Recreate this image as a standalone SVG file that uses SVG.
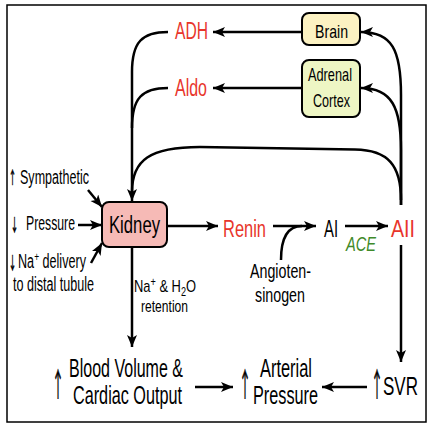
<svg xmlns="http://www.w3.org/2000/svg" width="437" height="430" viewBox="0 0 437 430">
<defs>
<marker id="ah" markerUnits="userSpaceOnUse" markerWidth="14" markerHeight="12" refX="12" refY="5" orient="auto">
<path d="M0,0 L12,5 L0,10 L3,5 z" fill="#000"/>
</marker>
<style>
text{font-family:"Liberation Sans",Arial,sans-serif;fill:#000}
.red{fill:#e8352b}
.green{fill:#3f8a2a;font-style:italic}
.big{font-size:23px}
.bot{font-size:25px}
.med{font-size:18.5px}
.sm{font-size:19.5px}
.xs{font-size:17px}
.arr{font-family:"Noto Sans CJK JP","Noto Sans CJK SC",sans-serif;fill:#000;stroke:#000;stroke-width:0.7}
.box{stroke:#000;stroke-width:2}
.c{fill:none;stroke:#000;stroke-width:2.5}
.cm{fill:none;stroke:#000;stroke-width:2.5;marker-end:url(#ah)}
</style>
</defs>
<rect x="7" y="5" width="419" height="417" fill="#fff" stroke="#000" stroke-width="1.5"/>

<g id="connectors">
<path class="cm" d="M301,32 H213"/>
<path class="cm" d="M301,88 H213"/>
<path class="cm" d="M168,32 C142,32 132,42 132,72 L132,201"/>
<path class="c" d="M168,88 C142,88 132,98 132,128"/>
<path class="c" d="M401,200 C401,165 388,150 355,149.5 L200,147 C150,147 132,160 132,192"/>
<path class="cm" d="M401,205 L401,95 C401,50 392,32 361,32"/>
<path class="cm" d="M401,205 L401,150 C401,108 392,88 361,88"/>
<path class="cm" d="M167,226 H218"/>
<path class="cm" d="M273,226 H316"/>
<path class="c" d="M281,260 C281,240 286,226 302,226"/>
<path class="cm" d="M345,226 H388"/>
<path class="cm" d="M401,245 V362"/>
<path class="cm" d="M132,247 V347"/>
<path class="cm" d="M195,387 H233"/>
<path class="cm" d="M367,387 H322"/>
<path class="cm" d="M88,190 L102,207"/>
<path class="cm" d="M78,225 H102"/>
<path class="cm" d="M91,263 L102,243"/>
</g>

<g id="brain">
<rect class="box" x="302" y="13" width="58" height="32" rx="7" fill="#fcf2c2"/>
<text class="med" x="315" y="38" textLength="33" lengthAdjust="spacingAndGlyphs">Brain</text>
</g>
<g id="adrenal">
<rect class="box" x="302" y="60" width="58" height="57" rx="7" fill="#eef6c4"/>
<text class="med" x="308" y="81" textLength="44" lengthAdjust="spacingAndGlyphs">Adrenal</text>
<text class="med" x="313" y="107" textLength="37" lengthAdjust="spacingAndGlyphs">Cortex</text>
</g>
<g id="adh"><text class="big red" x="175" y="39" textLength="33" lengthAdjust="spacingAndGlyphs">ADH</text></g>
<g id="aldo"><text class="big red" x="175" y="95.5" textLength="32" lengthAdjust="spacingAndGlyphs">Aldo</text></g>
<g id="kidney">
<rect class="box" x="102" y="202" width="65" height="45" rx="7" fill="#f6bab6"/>
<text class="big" x="109" y="233" textLength="51" lengthAdjust="spacingAndGlyphs">Kidney</text>
</g>
<g id="renin"><text class="big red" x="223" y="237" textLength="43" lengthAdjust="spacingAndGlyphs">Renin</text></g>
<g id="ai"><text class="big" x="324" y="237" textLength="14" lengthAdjust="spacingAndGlyphs">AI</text></g>
<g id="aii"><text class="big red" x="391" y="237" textLength="24" lengthAdjust="spacingAndGlyphs">AII</text></g>
<g id="ace"><text class="green" font-size="20.5" x="346" y="251" textLength="30" lengthAdjust="spacingAndGlyphs">ACE</text></g>
<g id="angiotensinogen">
<text class="sm" x="250" y="277.5" textLength="61" lengthAdjust="spacingAndGlyphs">Angioten-</text>
<text class="sm" x="255" y="302" textLength="50" lengthAdjust="spacingAndGlyphs">sinogen</text>
</g>
<g id="retention">
<text class="xs" x="134" y="291.5" textLength="62" lengthAdjust="spacingAndGlyphs">Na<tspan font-size="12" dy="-6">+</tspan><tspan dy="6"> &amp; H</tspan><tspan font-size="12" dy="4">2</tspan><tspan dy="-4">O</tspan></text>
<text class="xs" x="141" y="311.5" textLength="47" lengthAdjust="spacingAndGlyphs">retention</text>
</g>
<g id="sympathetic">
<text class="arr" font-size="17" x="9" y="184" textLength="7" lengthAdjust="spacingAndGlyphs">↑</text>
<text class="sm" x="20" y="184" textLength="69" lengthAdjust="spacingAndGlyphs">Sympathetic</text>
</g>
<g id="pressure-in">
<text class="arr" font-size="17" x="11" y="231" textLength="7" lengthAdjust="spacingAndGlyphs">↓</text>
<text class="sm" x="26" y="230" textLength="49" lengthAdjust="spacingAndGlyphs">Pressure</text>
</g>
<g id="na-delivery">
<text class="arr" font-size="17" x="9" y="269" textLength="7" lengthAdjust="spacingAndGlyphs">↓</text>
<text class="sm" x="18" y="268" textLength="68" lengthAdjust="spacingAndGlyphs">Na<tspan font-size="13" dy="-7">+</tspan><tspan dy="7"> delivery</tspan></text>
<text class="sm" x="13" y="291" textLength="81" lengthAdjust="spacingAndGlyphs">to distal tubule</text>
</g>
<g id="blood-volume">
<text class="arr" font-size="32" x="52" y="396" textLength="12" lengthAdjust="spacingAndGlyphs">↑</text>
<text class="bot" x="69" y="377" textLength="114" lengthAdjust="spacingAndGlyphs">Blood Volume &amp;</text>
<text class="bot" x="73" y="404" textLength="109" lengthAdjust="spacingAndGlyphs">Cardiac Output</text>
</g>
<g id="arterial-pressure">
<text class="arr" font-size="32" x="239" y="396" textLength="12" lengthAdjust="spacingAndGlyphs">↑</text>
<text class="bot" x="260" y="377" textLength="52" lengthAdjust="spacingAndGlyphs">Arterial</text>
<text class="bot" x="253" y="404" textLength="65" lengthAdjust="spacingAndGlyphs">Pressure</text>
</g>
<g id="svr">
<text class="arr" font-size="32" x="371" y="396" textLength="12" lengthAdjust="spacingAndGlyphs">↑</text>
<text class="bot" x="383" y="395" textLength="35" lengthAdjust="spacingAndGlyphs">SVR</text>
</g>
</svg>
